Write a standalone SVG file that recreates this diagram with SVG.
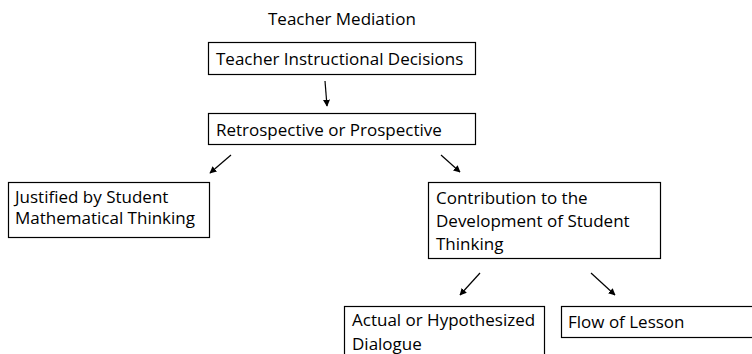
<svg xmlns="http://www.w3.org/2000/svg" width="752" height="354" viewBox="0 0 752 354">
<defs>
<marker id="ah" viewBox="0 0 10 10" refX="9" refY="5" markerWidth="7" markerHeight="7" markerUnits="userSpaceOnUse" orient="auto"><path d="M0,0 L10,5 L0,10 z" fill="#000"/></marker>
<style>
.box{fill:#fff;stroke:#000;stroke-width:1.2}
text{font-family:"Open Sans","Liberation Sans",Arial,sans-serif;font-size:17px;fill:#000}
.c{stroke:#000;stroke-width:1.2;fill:none;marker-end:url(#ah)}
</style>
</defs>
<rect width="752" height="354" fill="#fff"/>
<g id="title"><text x="268" y="25">Teacher Mediation</text></g>
<g id="n1"><rect class="box" x="208.5" y="42.5" width="267" height="32"/><text x="216" y="65">Teacher Instructional Decisions</text></g>
<g id="n2"><rect class="box" x="208.5" y="113.5" width="267" height="31"/><text x="216" y="136">Retrospective or Prospective</text></g>
<g id="n3"><rect class="box" x="8.5" y="182.5" width="201" height="55"/><text x="15" y="203">Justified by Student</text><text x="15" y="224">Mathematical Thinking</text></g>
<g id="n4"><rect class="box" x="428.5" y="182.5" width="232" height="76"/><text x="436" y="204">Contribution to the</text><text x="436" y="227">Development of Student</text><text x="436" y="250">Thinking</text></g>
<g id="n5"><rect class="box" x="344.5" y="306.5" width="200" height="60"/><text x="352" y="326">Actual or Hypothesized</text><text x="352" y="350">Dialogue</text></g>
<g id="n6"><rect class="box" x="561.5" y="306.5" width="200" height="31"/><text x="568" y="328">Flow of Lesson</text></g>
<g id="connectors">
<line class="c" x1="325" y1="81" x2="327" y2="106"/>
<line class="c" x1="231" y1="155" x2="210" y2="173"/>
<line class="c" x1="441" y1="155" x2="460" y2="172"/>
<line class="c" x1="480" y1="273" x2="460" y2="295"/>
<line class="c" x1="591" y1="273" x2="615" y2="295"/>
</g>
</svg>
